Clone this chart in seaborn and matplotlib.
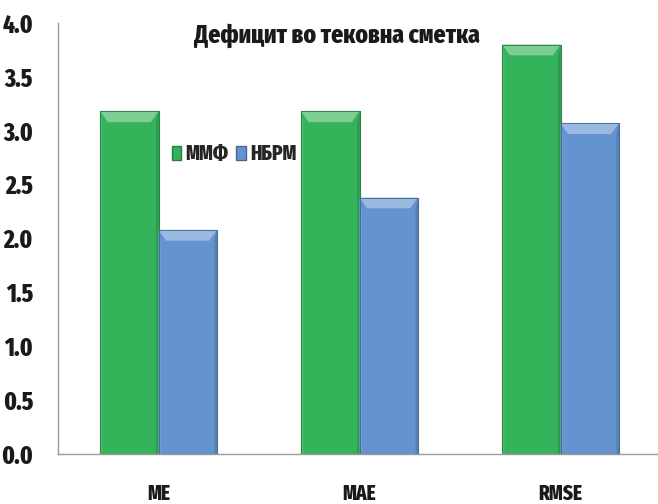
import numpy as np
import pandas as pd
import matplotlib
matplotlib.use("Agg")
import matplotlib.pyplot as plt
from matplotlib.patches import Polygon, Patch
from matplotlib import font_manager as fm
import seaborn as sns

categories = ["ME", "MAE", "RMSE"]
series_names = ["ММФ", "НБРМ"]
mmf_values = [3.18, 3.18, 3.80]
nbrm_values = [2.08, 2.38, 3.07]
y_ticks = [0.0, 0.5, 1.0, 1.5, 2.0, 2.5, 3.0, 3.5, 4.0]
title = "Дефицит во тековна сметка"

green = "#35b35b"
blue = "#6494d0"
palette = {series_names[0]: green, series_names[1]: blue}

df = pd.DataFrame({
    "category": categories * 2,
    "series": [series_names[0]] * 3 + [series_names[1]] * 3,
    "value": mmf_values + nbrm_values,
})

# pick a heavy condensed face that is actually installed
installed = {f.name for f in fm.fontManager.ttflist}
preferred = ["Fira Sans Extra Condensed", "Sofia Sans Extra Condensed", "Fira Sans Condensed",
             "PT Sans Narrow", "Roboto Condensed", "Oswald", "DejaVu Sans"]
narrow = next(n for n in preferred if n in installed)
heavy = "heavy"

sns.set_theme(style="white")
plt.rcParams["font.family"] = [narrow, "DejaVu Sans"]
plt.rcParams["font.weight"] = heavy

fig = plt.figure(figsize=(6.58, 5.04), dpi=100)
ax = fig.add_axes([58 / 658, 50 / 504, 603 / 658, 431 / 504])

sns.barplot(data=df, x="category", y="value", hue="series", order=categories,
            hue_order=series_names, palette=palette, width=0.58, gap=0.0,
            saturation=1.0, edgecolor="#5f6f66", linewidth=0.8, ax=ax,
            legend=False)


def lighten(c, f):
    r, g, b = matplotlib.colors.to_rgb(c)
    return (r + (1 - r) * f, g + (1 - g) * f, b + (1 - b) * f)


def darken(c, f):
    r, g, b = matplotlib.colors.to_rgb(c)
    return (r * (1 - f), g * (1 - f), b * (1 - f))


# bevelled top and side shading derived from each drawn bar
bevel = 0.10
for patch in list(ax.patches):
    x0 = patch.get_x()
    w = patch.get_width()
    h = patch.get_height()
    if h <= 0:
        continue
    base = patch.get_facecolor()
    inset = w * 0.13
    z = patch.get_zorder()
    ax.add_patch(Polygon([(x0, h), (x0 + w, h), (x0 + w - inset, h - bevel),
                          (x0 + inset, h - bevel)], closed=True,
                         facecolor=lighten(base, 0.35), edgecolor="none", zorder=z + 0.1))
    ax.add_patch(Polygon([(x0, h), (x0 + inset * 0.3, h - bevel),
                          (x0 + inset * 0.3, 0), (x0, 0)], closed=True,
                         facecolor=lighten(base, 0.1), edgecolor="none", zorder=z + 0.1))
    ax.add_patch(Polygon([(x0 + w, h), (x0 + w - inset * 0.3, h - bevel),
                          (x0 + w - inset * 0.3, 0), (x0 + w, 0)], closed=True,
                         facecolor=darken(base, 0.15), edgecolor="none", zorder=z + 0.1))
    ax.add_patch(Polygon([(x0, 0), (x0, h), (x0 + w, h), (x0 + w, 0)], closed=True,
                         facecolor="none", edgecolor=darken(base, 0.25), linewidth=0.7,
                         zorder=z + 0.2))

ax.set_xlim(-0.5, 2.5)
ax.set_ylim(0, 4.0)
ax.set_yticks(y_ticks)
ax.set_yticklabels([f"{v:.1f}" for v in y_ticks], fontsize=18, fontweight=heavy)
ax.set_xticks(range(len(categories)))
ax.set_xticklabels(categories, fontsize=15, fontweight=heavy)
ax.set_xticks([-0.5, 0.5, 1.5, 2.5], minor=True)
ax.tick_params(axis="x", which="major", length=0, pad=21, labelcolor="#1a1a1a")
ax.tick_params(axis="x", which="minor", length=8, width=1, color="#9a9a9a", direction="out")
ax.tick_params(axis="y", which="major", length=6, width=1, color="#9a9a9a", pad=12,
               labelcolor="#1a1a1a", direction="out")
ax.set_xlabel("")
ax.set_ylabel("")

for side in ["top", "right"]:
    ax.spines[side].set_visible(False)
for side in ["left", "bottom"]:
    ax.spines[side].set_color("#9a9a9a")
    ax.spines[side].set_linewidth(1.0)

fig.text(337 / 658, 1 - 36 / 504, title, ha="center", va="center", fontsize=18.5,
         fontweight=heavy, color="#1a1a1a")

handles = [Patch(facecolor=green, edgecolor=darken(green, 0.3)),
           Patch(facecolor=blue, edgecolor=darken(blue, 0.3))]
leg = fig.legend(handles, series_names, loc="center", bbox_to_anchor=(234 / 658, 1 - 154 / 504),
                 ncol=2, frameon=False, fontsize=15, handlelength=0.45, handleheight=0.7,
                 handletextpad=0.2, columnspacing=0.4, borderpad=0)
for t in leg.get_texts():
    t.set_fontweight(heavy)

fig.savefig("out.png", dpi=100)
